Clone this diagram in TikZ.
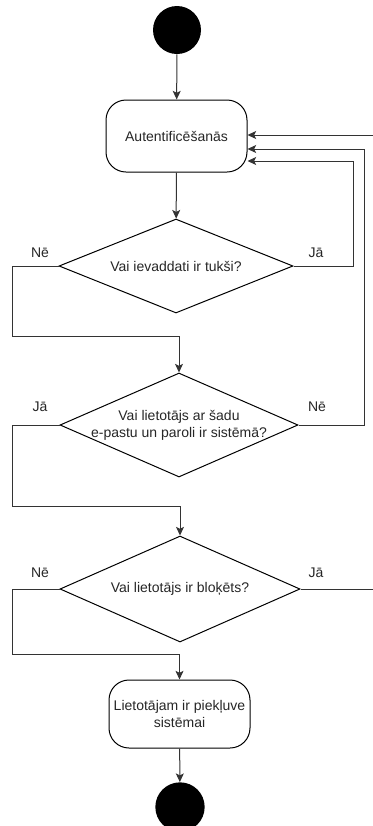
\documentclass[tikz,border=0pt]{standalone}
\usepackage{fontspec}
\setmainfont{Liberation Sans}
\usetikzlibrary{shapes.geometric,arrows.meta}
\tikzset{
    every node/.style={font=\fontsize{10.5}{12.8}\selectfont, text=black!85},
    state/.style={draw, rounded corners=15pt, minimum width=105.75pt,
        minimum height=54pt, align=center, inner sep=1pt, line width=.75pt},
    dot/.style={circle, fill=black, minimum size=36pt, inner sep=0pt},
    choice/.style={diamond, draw, inner sep=-2pt, align=center, line width=.75pt}
}
\tikzset{
    flow/.style={draw=black!80, line width=.75pt,
        -{Stealth[length=6.5pt,width=6pt,inset=1.5pt]}}
}

\begin{document}
\begin{tikzpicture}[x=.75pt, y=-.75pt]
  \useasboundingbox (0,0) rectangle (372,826);
  \node[dot] (start) at (177,30) {};
  \node[state] (auth) at (176.5,136) {Autentificēšanās};
  \node[choice, aspect=2.49, minimum width=175.5pt, minimum height=70.5pt] (empty) at (176,266) {Vai ievaddati ir tukši?};
  \node[choice, aspect=2.29, minimum width=178.5pt, minimum height=78pt] (found) at (179,425) {Vai lietotājs ar šadu\\e-pastu un paroli ir sistēmā?};
  \node[choice, aspect=2.26, minimum width=180pt, minimum height=79.5pt] (blocked) at (180,589) {Vai lietotājs ir bloķēts?};
  \node[state, minimum height=51pt] (access) at (179.5,714) {Lietotājam ir piekļuve\\sistēmai};
  \node[dot, minimum size=37pt] (stop) at (180,807) {};
  % answers
  \node (empty-no) at (40,253) {Nē};
  \node (empty-yes) at (316,253) {Jā};
  \node (found-yes) at (40,407) {Jā};
  \node (found-no) at (317,407) {Nē};
  \node (blocked-no) at (40,573) {Nē};
  \node (blocked-yes) at (316,573) {Jā};
  % bends
  \coordinate (l1) at (12,336);
  \coordinate (l2) at (12,506);
  \coordinate (l3) at (12,654);
  \coordinate (r1) at (353,161);
  \coordinate (r2) at (364,149);
  \coordinate (r3) at (376,135);
  \draw[flow] (start) -- (auth);
  \draw[flow] (auth) -- (empty);
  \draw[flow] (empty.west) -| (l1) -| (found.north);
  \draw[flow] (found.west) -| (l2) -| (blocked.north);
  \draw[flow] (blocked.west) -| (l3) -| (access.north);
  \draw[flow] (access) -- (stop);
  \draw[flow] (empty.east) -| (r1) -- (auth.east |- r1);
  \draw[flow] (found.east) -| (r2) -- (auth.east |- r2);
  \draw[flow] (blocked.east) -| (r3) -- (auth.east |- r3);
\end{tikzpicture}
\end{document}
